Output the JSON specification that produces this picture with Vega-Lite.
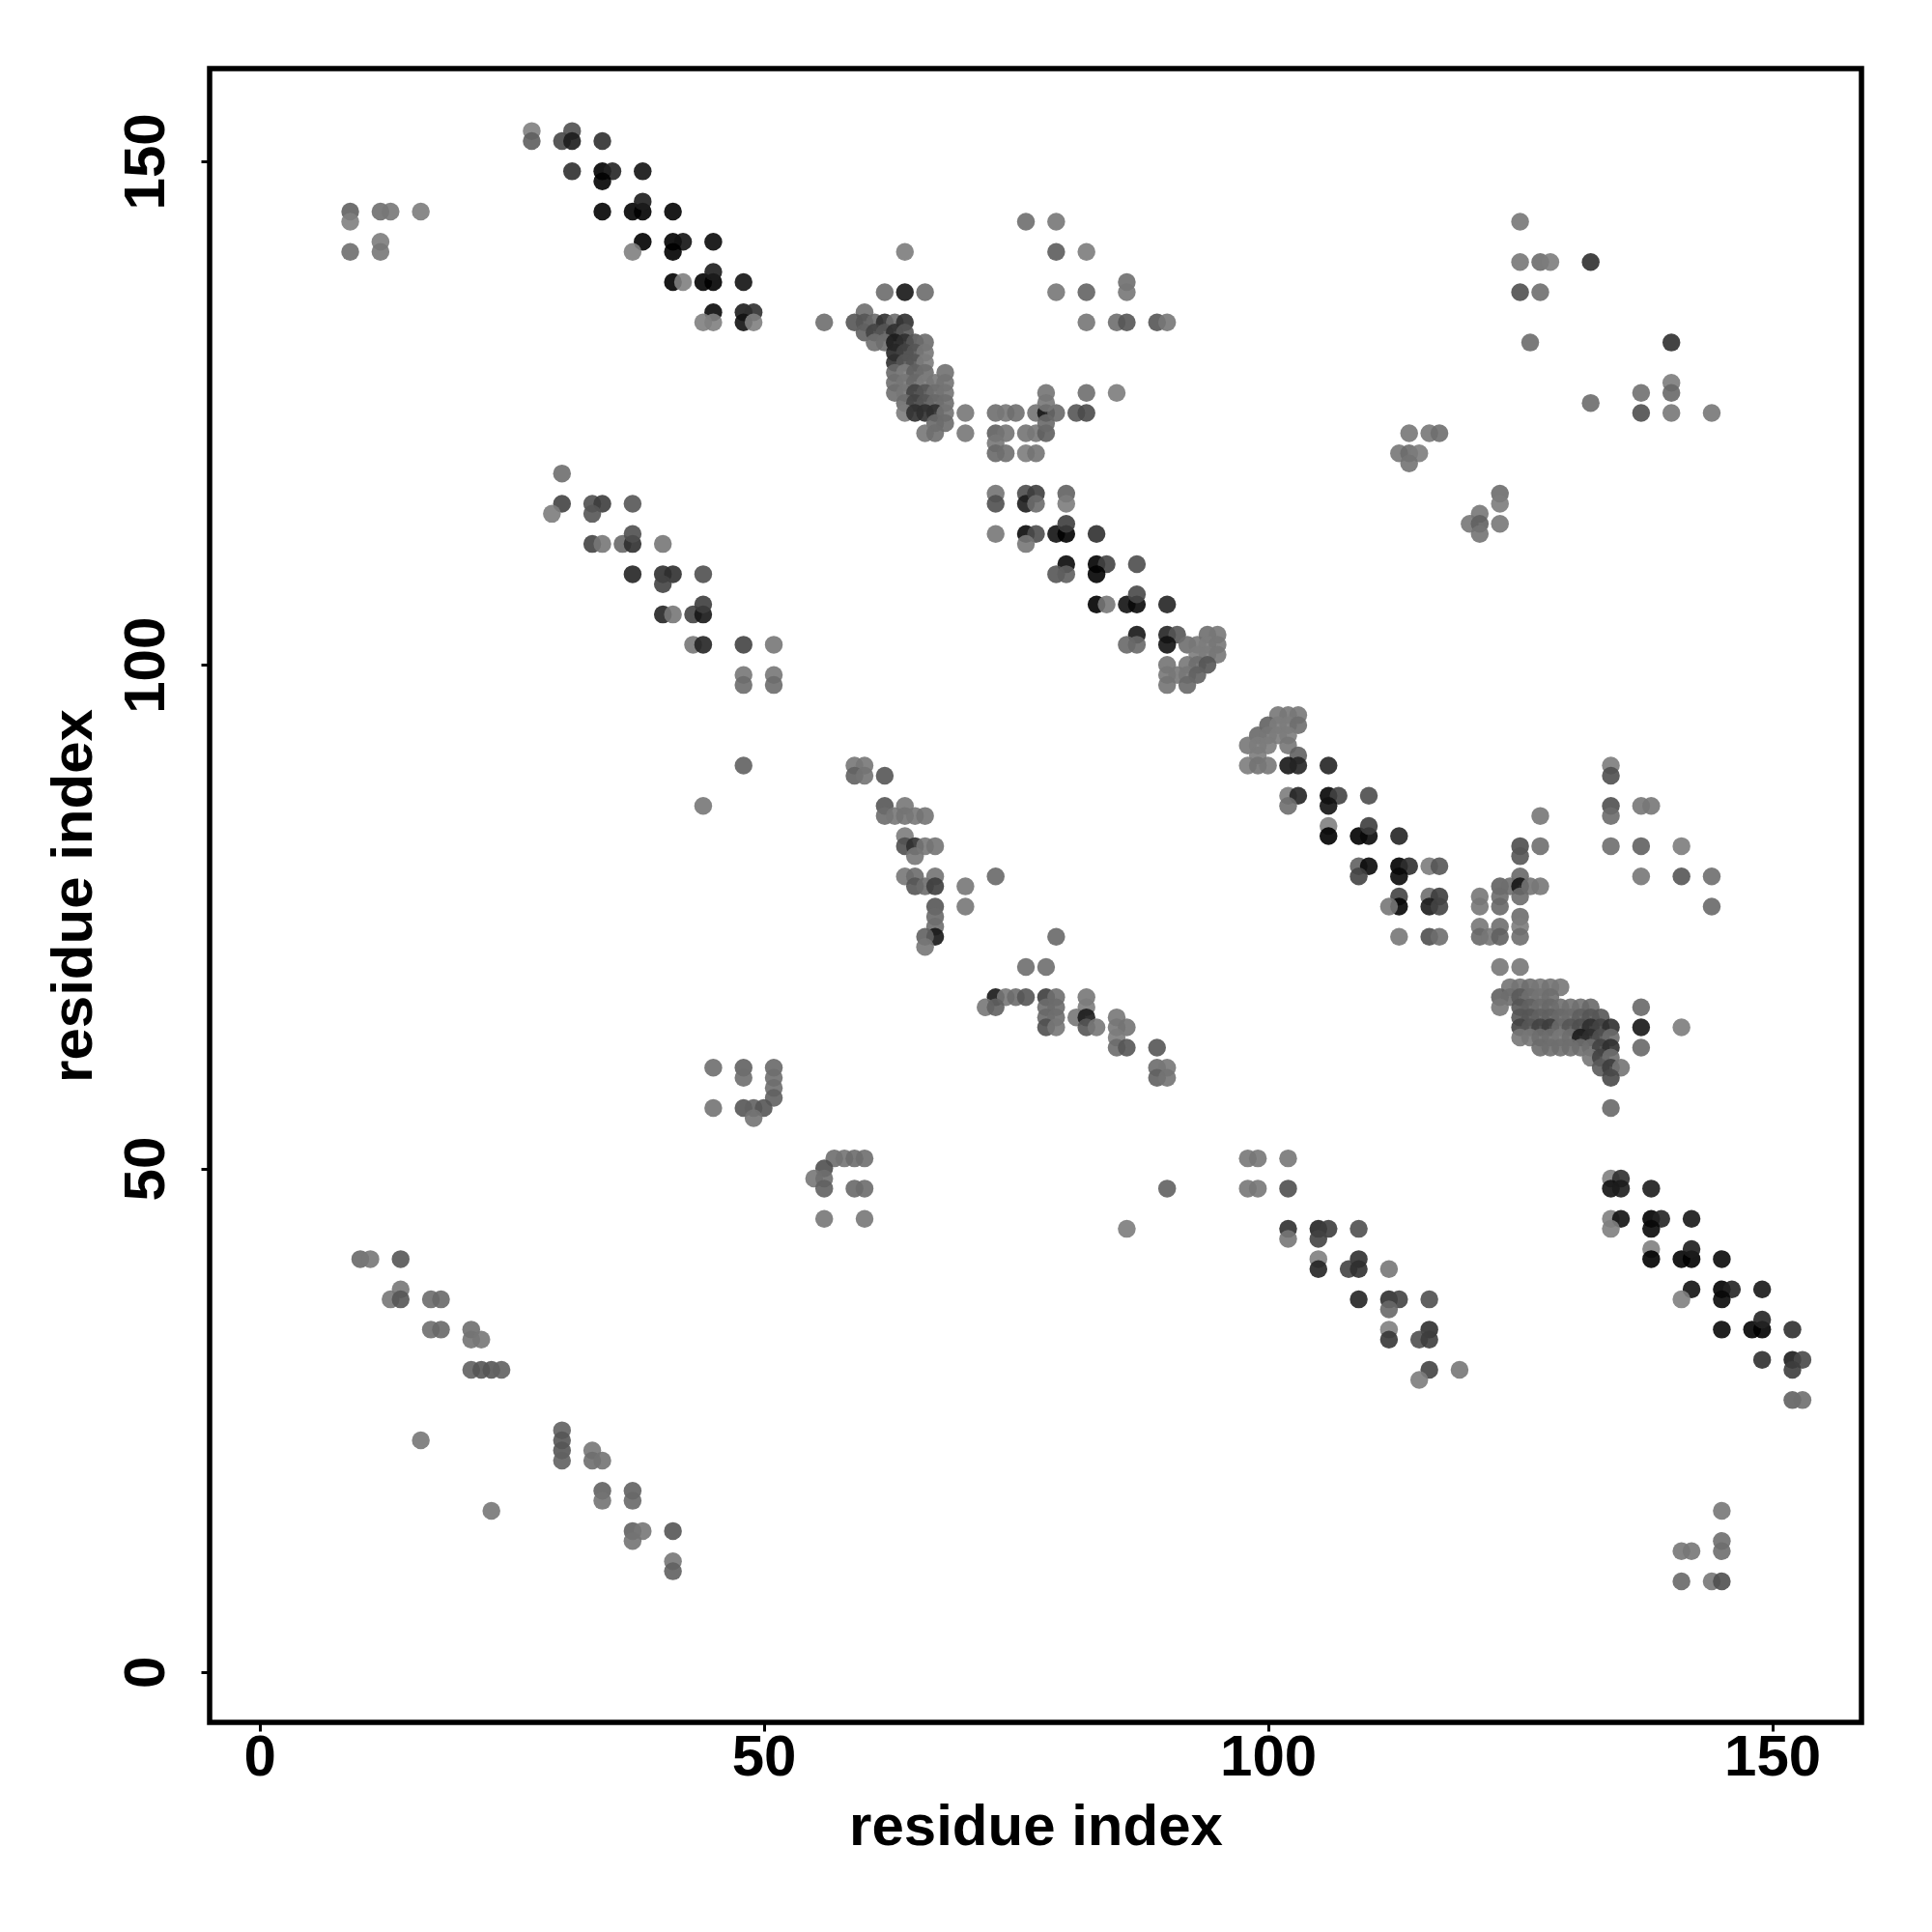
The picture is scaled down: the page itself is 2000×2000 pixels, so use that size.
{"$schema":"https://vega.github.io/schema/vega-lite/v6.json","width":1710,"height":1712,"autosize":{"type":"none"},"padding":{"left":217,"top":71,"right":73,"bottom":217},"background":"white","config":{"view":{"stroke":"black","strokeWidth":5.5},"font":"Liberation Sans"},
"data":{"values":[
{"x":9,"y":145,"s":112},{"x":9,"y":144,"s":140},{"x":12,"y":145,"s":124},{"x":13,"y":145,"s":132},{"x":16,"y":145,"s":136},{"x":9,"y":141,"s":124},{"x":12,"y":142,"s":136},{"x":12,"y":141,"s":132},
{"x":27,"y":153,"s":140},{"x":27,"y":152,"s":110},{"x":30,"y":152,"s":88},{"x":31,"y":153,"s":96},{"x":31,"y":152,"s":51},{"x":34,"y":152,"s":68},{"x":31,"y":149,"s":68},{"x":34,"y":149,"s":26},{"x":35,"y":149,"s":58},{"x":38,"y":149,"s":42},{"x":34,"y":148,"s":28},{"x":34,"y":145,"s":28},{"x":37,"y":145,"s":28},{"x":38,"y":145,"s":26},{"x":38,"y":146,"s":51},{"x":41,"y":145,"s":28},{"x":38,"y":142,"s":26},{"x":37,"y":141,"s":140},{"x":41,"y":142,"s":26},{"x":42,"y":142,"s":42},{"x":41,"y":141,"s":26},{"x":45,"y":142,"s":34},{"x":41,"y":138,"s":26},{"x":42,"y":138,"s":140},{"x":44,"y":138,"s":28},{"x":45,"y":138,"s":26},{"x":45,"y":139,"s":51},{"x":48,"y":138,"s":42},{"x":45,"y":135,"s":34},{"x":44,"y":134,"s":140},{"x":45,"y":134,"s":140},{"x":48,"y":135,"s":51},{"x":49,"y":135,"s":68},{"x":48,"y":134,"s":42},{"x":49,"y":134,"s":140},
{"x":76,"y":144,"s":124},{"x":79,"y":144,"s":132},{"x":64,"y":141,"s":136},{"x":79,"y":141,"s":108},{"x":82,"y":141,"s":136},{"x":62,"y":137,"s":122},{"x":64,"y":137,"s":46},{"x":66,"y":137,"s":122},{"x":79,"y":137,"s":132},{"x":82,"y":137,"s":114},{"x":86,"y":138,"s":124},{"x":86,"y":137,"s":132},{"x":56,"y":134,"s":124},{"x":82,"y":134,"s":130},{"x":85,"y":134,"s":124},{"x":86,"y":134,"s":102},{"x":89,"y":134,"s":102},{"x":90,"y":134,"s":132},
{"x":60,"y":135,"s":124},{"x":59,"y":134,"s":102},{"x":60,"y":134,"s":102},{"x":61,"y":134,"s":119},{"x":62,"y":134,"s":68},{"x":63,"y":134,"s":122},{"x":64,"y":134,"s":68},{"x":60,"y":133,"s":112},{"x":61,"y":133,"s":85},{"x":62,"y":133,"s":102},{"x":63,"y":133,"s":68},{"x":64,"y":133,"s":102},{"x":61,"y":132,"s":124},{"x":62,"y":132,"s":124},{"x":63,"y":132,"s":51},{"x":64,"y":132,"s":68},{"x":65,"y":132,"s":102},{"x":66,"y":132,"s":122},{"x":63,"y":131,"s":60},{"x":64,"y":131,"s":85},{"x":65,"y":131,"s":102},{"x":66,"y":131,"s":132},{"x":63,"y":130,"s":68},{"x":64,"y":130,"s":102},{"x":65,"y":130,"s":102},{"x":66,"y":130,"s":136},{"x":63,"y":129,"s":119},{"x":64,"y":129,"s":136},{"x":65,"y":129,"s":112},{"x":66,"y":129,"s":124},{"x":68,"y":129,"s":126},{"x":63,"y":128,"s":124},{"x":64,"y":128,"s":132},{"x":65,"y":128,"s":119},{"x":66,"y":128,"s":136},{"x":67,"y":128,"s":132},{"x":68,"y":128,"s":128},{"x":63,"y":127,"s":124},{"x":64,"y":127,"s":132},{"x":65,"y":127,"s":85},{"x":66,"y":127,"s":102},{"x":67,"y":127,"s":124},{"x":68,"y":127,"s":128},{"x":64,"y":126,"s":122},{"x":65,"y":126,"s":85},{"x":66,"y":126,"s":102},{"x":67,"y":126,"s":119},{"x":68,"y":126,"s":124},{"x":64,"y":125,"s":136},{"x":65,"y":125,"s":68},{"x":66,"y":125,"s":68},{"x":67,"y":125,"s":68},{"x":68,"y":125,"s":128},{"x":67,"y":124,"s":119},{"x":68,"y":124,"s":122},{"x":66,"y":123,"s":132},{"x":67,"y":123,"s":124},
{"x":70,"y":125,"s":132},{"x":70,"y":123,"s":132},{"x":73,"y":125,"s":124},{"x":74,"y":125,"s":132},{"x":75,"y":125,"s":124},{"x":77,"y":125,"s":128},{"x":78,"y":125,"s":46},{"x":79,"y":125,"s":119},{"x":81,"y":125,"s":102},{"x":82,"y":125,"s":92},{"x":78,"y":127,"s":128},{"x":78,"y":126,"s":132},{"x":82,"y":127,"s":124},{"x":85,"y":127,"s":136},{"x":73,"y":123,"s":110},{"x":74,"y":123,"s":128},{"x":76,"y":123,"s":128},{"x":77,"y":123,"s":132},{"x":78,"y":123,"s":110},{"x":78,"y":124,"s":119},{"x":73,"y":122,"s":132},{"x":73,"y":121,"s":119},{"x":74,"y":121,"s":124},{"x":76,"y":121,"s":136},{"x":77,"y":121,"s":128},
{"x":73,"y":117,"s":128},{"x":73,"y":116,"s":96},{"x":76,"y":117,"s":94},{"x":76,"y":116,"s":51},{"x":77,"y":117,"s":80},{"x":77,"y":116,"s":122},{"x":80,"y":117,"s":112},{"x":80,"y":116,"s":136},{"x":73,"y":113,"s":132},{"x":76,"y":113,"s":34},{"x":77,"y":113,"s":94},{"x":76,"y":112,"s":132},{"x":79,"y":113,"s":42},{"x":80,"y":113,"s":26},{"x":80,"y":114,"s":80},{"x":83,"y":113,"s":68},{"x":80,"y":110,"s":34},{"x":83,"y":110,"s":26},{"x":84,"y":110,"s":85},{"x":87,"y":110,"s":94},{"x":79,"y":109,"s":102},{"x":80,"y":109,"s":110},{"x":83,"y":109,"s":28},{"x":83,"y":106,"s":26},{"x":84,"y":106,"s":132},{"x":86,"y":106,"s":42},{"x":87,"y":106,"s":34},{"x":87,"y":107,"s":90},{"x":90,"y":106,"s":58},{"x":87,"y":103,"s":46},{"x":90,"y":103,"s":58},{"x":91,"y":103,"s":102},{"x":86,"y":102,"s":119},{"x":87,"y":102,"s":119},{"x":90,"y":102,"s":42},{"x":92,"y":102,"s":124},{"x":93,"y":102,"s":132},{"x":94,"y":103,"s":124},{"x":95,"y":103,"s":132},{"x":94,"y":102,"s":136},{"x":95,"y":102,"s":132},{"x":94,"y":101,"s":136},{"x":95,"y":101,"s":132},{"x":93,"y":101,"s":136},{"x":90,"y":100,"s":128},{"x":92,"y":100,"s":132},{"x":93,"y":100,"s":124},{"x":94,"y":100,"s":102},{"x":90,"y":99,"s":132},{"x":91,"y":99,"s":132},{"x":92,"y":99,"s":132},{"x":93,"y":99,"s":112},{"x":90,"y":98,"s":128},{"x":92,"y":98,"s":119},
{"x":101,"y":95,"s":132},{"x":102,"y":95,"s":132},{"x":103,"y":95,"s":132},{"x":100,"y":94,"s":112},{"x":101,"y":94,"s":136},{"x":102,"y":94,"s":136},{"x":103,"y":94,"s":124},{"x":99,"y":93,"s":119},{"x":100,"y":93,"s":132},{"x":101,"y":93,"s":136},{"x":102,"y":93,"s":136},{"x":98,"y":92,"s":132},{"x":99,"y":92,"s":136},{"x":100,"y":92,"s":136},{"x":102,"y":92,"s":132},{"x":99,"y":91,"s":136},{"x":103,"y":91,"s":112},{"x":98,"y":90,"s":136},{"x":99,"y":90,"s":128},{"x":100,"y":90,"s":132},{"x":102,"y":90,"s":46},{"x":103,"y":90,"s":58},{"x":106,"y":90,"s":58},{"x":102,"y":87,"s":136},{"x":103,"y":87,"s":58},{"x":106,"y":87,"s":30},{"x":107,"y":87,"s":85},{"x":110,"y":87,"s":94},{"x":102,"y":86,"s":124},{"x":106,"y":86,"s":42},{"x":106,"y":84,"s":140},{"x":106,"y":83,"s":26},{"x":109,"y":83,"s":26},{"x":110,"y":83,"s":34},{"x":110,"y":84,"s":80},{"x":113,"y":83,"s":58},{"x":109,"y":80,"s":112},{"x":110,"y":80,"s":34},{"x":113,"y":80,"s":26},{"x":114,"y":80,"s":68},{"x":109,"y":79,"s":85},{"x":113,"y":79,"s":34},{"x":116,"y":80,"s":136},{"x":117,"y":80,"s":102},{"x":113,"y":77,"s":85},{"x":113,"y":76,"s":30},{"x":112,"y":76,"s":132},{"x":116,"y":77,"s":124},{"x":117,"y":77,"s":80},{"x":116,"y":76,"s":51},{"x":117,"y":76,"s":85},{"x":113,"y":73,"s":132},{"x":116,"y":73,"s":96},{"x":117,"y":73,"s":124},
{"x":134,"y":90,"s":136},{"x":134,"y":89,"s":96},{"x":134,"y":86,"s":96},{"x":134,"y":85,"s":122},{"x":137,"y":86,"s":132},{"x":138,"y":86,"s":132},{"x":127,"y":85,"s":132},{"x":125,"y":82,"s":94},{"x":125,"y":81,"s":102},{"x":127,"y":82,"s":124},{"x":134,"y":82,"s":124},{"x":137,"y":82,"s":112},{"x":141,"y":82,"s":136},{"x":125,"y":79,"s":119},{"x":137,"y":79,"s":132},{"x":141,"y":79,"s":102},{"x":144,"y":79,"s":124},{"x":144,"y":76,"s":119},{"x":123,"y":78,"s":112},{"x":124,"y":78,"s":124},{"x":125,"y":78,"s":46},{"x":126,"y":78,"s":128},{"x":127,"y":78,"s":132},{"x":121,"y":77,"s":132},{"x":123,"y":77,"s":122},{"x":125,"y":77,"s":122},{"x":121,"y":76,"s":132},{"x":123,"y":76,"s":119},{"x":125,"y":75,"s":122},{"x":121,"y":74,"s":132},{"x":123,"y":74,"s":124},{"x":125,"y":74,"s":136},{"x":121,"y":73,"s":119},{"x":122,"y":73,"s":132},{"x":123,"y":73,"s":112},{"x":125,"y":73,"s":124},{"x":123,"y":70,"s":132},{"x":125,"y":70,"s":132},
{"x":124,"y":68,"s":128},{"x":125,"y":68,"s":128},{"x":126,"y":68,"s":124},{"x":127,"y":68,"s":132},{"x":128,"y":68,"s":128},{"x":129,"y":68,"s":132},{"x":123,"y":67,"s":112},{"x":124,"y":67,"s":124},{"x":125,"y":67,"s":106},{"x":126,"y":67,"s":124},{"x":127,"y":67,"s":128},{"x":128,"y":67,"s":124},{"x":123,"y":66,"s":132},{"x":125,"y":66,"s":102},{"x":126,"y":66,"s":112},{"x":127,"y":66,"s":122},{"x":128,"y":66,"s":119},{"x":129,"y":66,"s":124},{"x":130,"y":66,"s":126},{"x":131,"y":66,"s":126},{"x":132,"y":66,"s":119},{"x":125,"y":65,"s":102},{"x":126,"y":65,"s":102},{"x":127,"y":65,"s":112},{"x":128,"y":65,"s":112},{"x":129,"y":65,"s":119},{"x":130,"y":65,"s":122},{"x":131,"y":65,"s":110},{"x":132,"y":65,"s":102},{"x":133,"y":65,"s":102},{"x":125,"y":64,"s":85},{"x":126,"y":64,"s":102},{"x":127,"y":64,"s":85},{"x":128,"y":64,"s":80},{"x":129,"y":64,"s":119},{"x":130,"y":64,"s":102},{"x":131,"y":64,"s":96},{"x":132,"y":64,"s":68},{"x":133,"y":64,"s":85},{"x":134,"y":64,"s":68},{"x":137,"y":66,"s":119},{"x":137,"y":64,"s":46},{"x":137,"y":62,"s":119},{"x":141,"y":64,"s":136},{"x":125,"y":63,"s":132},{"x":126,"y":63,"s":132},{"x":127,"y":63,"s":124},{"x":128,"y":63,"s":124},{"x":129,"y":63,"s":132},{"x":130,"y":63,"s":124},{"x":131,"y":63,"s":51},{"x":132,"y":63,"s":68},{"x":133,"y":63,"s":96},{"x":134,"y":63,"s":122},{"x":127,"y":62,"s":122},{"x":128,"y":62,"s":124},{"x":129,"y":62,"s":124},{"x":130,"y":62,"s":124},{"x":131,"y":62,"s":124},{"x":132,"y":62,"s":124},{"x":133,"y":62,"s":85},{"x":134,"y":62,"s":68},{"x":132,"y":61,"s":132},{"x":133,"y":61,"s":85},{"x":134,"y":61,"s":124},{"x":133,"y":60,"s":106},{"x":134,"y":60,"s":80},{"x":135,"y":60,"s":128},{"x":134,"y":59,"s":90},{"x":134,"y":56,"s":119},
{"x":59,"y":90,"s":132},{"x":60,"y":90,"s":132},{"x":59,"y":89,"s":112},{"x":60,"y":89,"s":128},{"x":62,"y":89,"s":102},{"x":62,"y":86,"s":102},{"x":62,"y":85,"s":122},{"x":64,"y":86,"s":132},{"x":63,"y":85,"s":132},{"x":64,"y":85,"s":128},{"x":65,"y":85,"s":132},{"x":66,"y":85,"s":128},{"x":64,"y":83,"s":136},{"x":64,"y":82,"s":96},{"x":65,"y":82,"s":68},{"x":66,"y":82,"s":132},{"x":67,"y":82,"s":128},{"x":65,"y":81,"s":132},{"x":64,"y":79,"s":132},{"x":65,"y":79,"s":122},{"x":65,"y":78,"s":102},{"x":66,"y":78,"s":122},{"x":67,"y":79,"s":128},{"x":67,"y":78,"s":80},{"x":70,"y":78,"s":132},{"x":70,"y":76,"s":132},{"x":73,"y":79,"s":119},{"x":67,"y":76,"s":102},{"x":67,"y":75,"s":119},{"x":67,"y":74,"s":124},{"x":67,"y":73,"s":46},{"x":66,"y":73,"s":112},{"x":66,"y":72,"s":132},{"x":79,"y":73,"s":119},{"x":76,"y":70,"s":124},{"x":78,"y":70,"s":124},{"x":73,"y":67,"s":46},{"x":74,"y":67,"s":132},{"x":75,"y":67,"s":122},{"x":76,"y":67,"s":102},{"x":78,"y":67,"s":80},{"x":79,"y":67,"s":124},{"x":82,"y":67,"s":132},{"x":72,"y":66,"s":132},{"x":73,"y":66,"s":112},{"x":78,"y":66,"s":122},{"x":79,"y":66,"s":122},{"x":82,"y":66,"s":136},{"x":78,"y":65,"s":119},{"x":79,"y":65,"s":124},{"x":81,"y":65,"s":132},{"x":82,"y":65,"s":51},{"x":85,"y":65,"s":132},{"x":78,"y":64,"s":96},{"x":79,"y":64,"s":132},{"x":82,"y":64,"s":102},{"x":83,"y":64,"s":132},{"x":85,"y":64,"s":132},{"x":86,"y":64,"s":128},{"x":85,"y":63,"s":136},{"x":85,"y":62,"s":122},{"x":86,"y":62,"s":102},{"x":89,"y":62,"s":102},{"x":89,"y":60,"s":122},{"x":90,"y":60,"s":132},{"x":89,"y":59,"s":112},{"x":90,"y":59,"s":128},
{"x":125,"y":144,"s":132},{"x":125,"y":140,"s":132},{"x":127,"y":140,"s":122},{"x":128,"y":140,"s":136},{"x":132,"y":140,"s":68},{"x":125,"y":137,"s":96},{"x":127,"y":137,"s":124},{"x":126,"y":132,"s":122},{"x":140,"y":132,"s":68},{"x":140,"y":128,"s":136},{"x":140,"y":127,"s":119},{"x":137,"y":127,"s":126},{"x":132,"y":126,"s":122},{"x":137,"y":125,"s":96},{"x":140,"y":125,"s":132},{"x":144,"y":125,"s":132},{"x":114,"y":123,"s":132},{"x":116,"y":123,"s":132},{"x":117,"y":123,"s":124},{"x":113,"y":121,"s":132},{"x":114,"y":121,"s":122},{"x":115,"y":121,"s":136},{"x":114,"y":120,"s":128},{"x":123,"y":117,"s":122},{"x":123,"y":116,"s":136},{"x":121,"y":115,"s":132},{"x":120,"y":114,"s":132},{"x":121,"y":114,"s":112},{"x":123,"y":114,"s":132},{"x":121,"y":113,"s":128},
{"x":30,"y":119,"s":124},{"x":30,"y":116,"s":85},{"x":29,"y":115,"s":136},{"x":33,"y":116,"s":96},{"x":34,"y":116,"s":80},{"x":33,"y":115,"s":102},{"x":37,"y":116,"s":102},{"x":33,"y":112,"s":85},{"x":34,"y":112,"s":132},{"x":36,"y":112,"s":119},{"x":37,"y":112,"s":68},{"x":37,"y":113,"s":96},{"x":40,"y":112,"s":132},{"x":37,"y":109,"s":58},{"x":40,"y":109,"s":68},{"x":41,"y":109,"s":68},{"x":40,"y":108,"s":85},{"x":44,"y":109,"s":96},{"x":40,"y":105,"s":58},{"x":41,"y":105,"s":132},{"x":43,"y":105,"s":85},{"x":44,"y":105,"s":46},{"x":44,"y":106,"s":80},{"x":43,"y":102,"s":132},{"x":44,"y":102,"s":58},{"x":48,"y":102,"s":85},{"x":51,"y":102,"s":132},{"x":48,"y":99,"s":132},{"x":48,"y":98,"s":122},{"x":51,"y":99,"s":132},{"x":51,"y":98,"s":122},{"x":48,"y":90,"s":112},{"x":44,"y":86,"s":132},
{"x":10,"y":41,"s":119},{"x":11,"y":41,"s":132},{"x":14,"y":41,"s":102},{"x":14,"y":38,"s":132},{"x":13,"y":37,"s":132},{"x":14,"y":37,"s":102},{"x":17,"y":37,"s":122},{"x":18,"y":37,"s":119},{"x":17,"y":34,"s":124},{"x":18,"y":34,"s":119},{"x":21,"y":34,"s":124},{"x":21,"y":33,"s":128},{"x":22,"y":33,"s":132},{"x":21,"y":30,"s":112},{"x":22,"y":30,"s":102},{"x":23,"y":30,"s":102},{"x":24,"y":30,"s":112},{"x":16,"y":23,"s":132},{"x":30,"y":24,"s":112},{"x":30,"y":23,"s":102},{"x":30,"y":22,"s":102},{"x":30,"y":21,"s":112},{"x":33,"y":22,"s":132},{"x":33,"y":21,"s":124},{"x":34,"y":21,"s":128},{"x":34,"y":18,"s":112},{"x":34,"y":17,"s":128},{"x":37,"y":18,"s":112},{"x":37,"y":17,"s":119},{"x":23,"y":16,"s":132},{"x":37,"y":14,"s":112},{"x":38,"y":14,"s":132},{"x":37,"y":13,"s":128},{"x":41,"y":14,"s":102},{"x":41,"y":11,"s":132},{"x":41,"y":10,"s":112},
{"x":57,"y":51,"s":124},{"x":58,"y":51,"s":128},{"x":59,"y":51,"s":122},{"x":60,"y":51,"s":124},{"x":56,"y":50,"s":96},{"x":55,"y":49,"s":132},{"x":56,"y":49,"s":124},{"x":56,"y":48,"s":112},{"x":59,"y":48,"s":119},{"x":60,"y":48,"s":122},{"x":56,"y":45,"s":132},{"x":60,"y":45,"s":132},{"x":90,"y":48,"s":112},{"x":86,"y":44,"s":136},
{"x":45,"y":60,"s":124},{"x":48,"y":60,"s":112},{"x":51,"y":60,"s":119},{"x":48,"y":59,"s":124},{"x":51,"y":59,"s":124},{"x":51,"y":58,"s":124},{"x":51,"y":57,"s":112},{"x":45,"y":56,"s":128},{"x":48,"y":56,"s":102},{"x":49,"y":56,"s":112},{"x":50,"y":56,"s":102},{"x":49,"y":55,"s":128},
{"x":98,"y":51,"s":132},{"x":99,"y":51,"s":132},{"x":102,"y":51,"s":132},{"x":98,"y":48,"s":132},{"x":99,"y":48,"s":132},{"x":102,"y":48,"s":96},{"x":102,"y":44,"s":68},{"x":102,"y":43,"s":132},{"x":105,"y":44,"s":58},{"x":106,"y":44,"s":80},{"x":105,"y":43,"s":85},{"x":109,"y":44,"s":96},{"x":105,"y":41,"s":140},{"x":105,"y":40,"s":58},{"x":109,"y":41,"s":68},{"x":108,"y":40,"s":85},{"x":109,"y":40,"s":68},{"x":112,"y":40,"s":132},{"x":109,"y":37,"s":58},{"x":112,"y":37,"s":68},{"x":113,"y":37,"s":85},{"x":112,"y":36,"s":119},{"x":116,"y":37,"s":96},{"x":112,"y":34,"s":140},{"x":112,"y":33,"s":74},{"x":116,"y":34,"s":68},{"x":115,"y":33,"s":96},{"x":116,"y":33,"s":80},{"x":116,"y":30,"s":85},{"x":115,"y":29,"s":136},{"x":119,"y":30,"s":132},
{"x":134,"y":49,"s":140},{"x":135,"y":49,"s":68},{"x":134,"y":48,"s":42},{"x":135,"y":48,"s":51},{"x":138,"y":48,"s":51},{"x":134,"y":45,"s":140},{"x":135,"y":45,"s":42},{"x":138,"y":45,"s":26},{"x":139,"y":45,"s":58},{"x":142,"y":45,"s":46},{"x":134,"y":44,"s":140},{"x":138,"y":44,"s":34},{"x":138,"y":42,"s":140},{"x":138,"y":41,"s":26},{"x":141,"y":41,"s":28},{"x":142,"y":41,"s":26},{"x":142,"y":42,"s":51},{"x":145,"y":41,"s":34},{"x":142,"y":38,"s":42},{"x":141,"y":37,"s":140},{"x":145,"y":38,"s":26},{"x":146,"y":38,"s":58},{"x":149,"y":38,"s":46},{"x":145,"y":37,"s":34},{"x":145,"y":34,"s":34},{"x":148,"y":34,"s":28},{"x":149,"y":34,"s":26},{"x":149,"y":35,"s":58},{"x":152,"y":34,"s":68},{"x":149,"y":31,"s":68},{"x":152,"y":31,"s":51},{"x":153,"y":31,"s":90},{"x":152,"y":30,"s":80},{"x":152,"y":27,"s":112},{"x":153,"y":27,"s":124},
{"x":145,"y":16,"s":132},{"x":141,"y":12,"s":132},{"x":142,"y":12,"s":132},{"x":145,"y":13,"s":124},{"x":145,"y":12,"s":124},{"x":141,"y":9,"s":119},{"x":144,"y":9,"s":132},{"x":145,"y":9,"s":96}
]},
"mark":{"type":"point","filled":true,"shape":"circle","size":342,"opacity":0.9,"strokeWidth":0},
"encoding":{
"x":{"field":"x","type":"quantitative","scale":{"domain":[-4.94,158.85],"nice":false,"zero":false},"axis":{"values":[0,50,100,150],"title":"residue index","grid":false,"domain":false,"tickColor":"black","tickWidth":3,"tickSize":9,"labelFont":"Liberation Sans","labelFontWeight":"bold","labelFontSize":60,"labelColor":"black","labelPadding":-2,"titleFont":"Liberation Sans","titleFontWeight":"bold","titleFontSize":60,"titleColor":"black","titlePadding":13}},
"y":{"field":"y","type":"quantitative","scale":{"domain":[-5,159.2],"nice":false,"zero":false},"axis":{"values":[0,50,100,150],"title":"residue index","grid":false,"domain":false,"tickColor":"black","tickWidth":3,"tickSize":9,"labelFont":"Liberation Sans","labelFontWeight":"bold","labelFontSize":60,"labelColor":"black","labelAngle":-90,"labelAlign":"center","labelBaseline":"bottom","labelPadding":26,"titleFont":"Liberation Sans","titleFontWeight":"bold","titleFontSize":60,"titleColor":"black","titlePadding":14}},
"color":{"field":"s","type":"quantitative","legend":null,"scale":{"domain":[26,140],"range":["#000000","#808080"],"interpolate":"rgb"}},
"order":[{"field":"x","type":"quantitative","sort":"ascending"},{"field":"y","type":"quantitative","sort":"ascending"}]
}}
